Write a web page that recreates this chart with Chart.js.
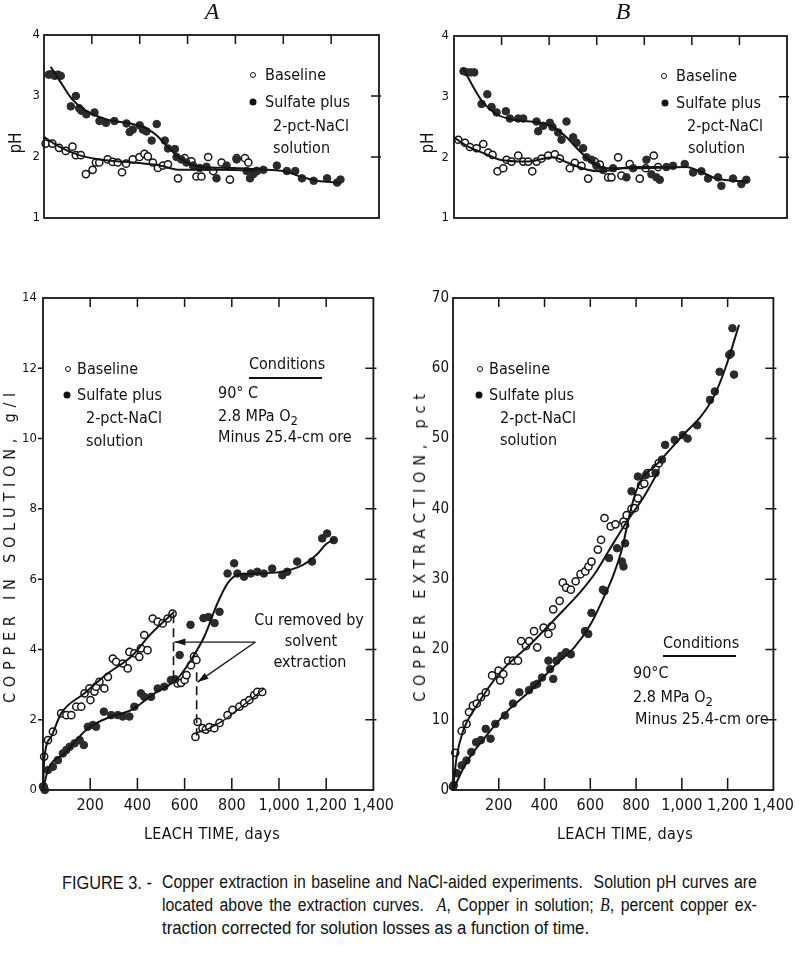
<!DOCTYPE html>
<html>
<head>
<meta charset="utf-8">
<script src="https://cdn.jsdelivr.net/npm/chart.js@4.4.1/dist/chart.umd.min.js"></script>
<style>
  html, body { margin: 0; padding: 0; background: #fff; }
  #page { position: relative; width: 800px; height: 955px; overflow: hidden; background: #fff; color: #111;
          font-family: 'DejaVu Sans Condensed', 'Liberation Sans', sans-serif; }
  canvas.panel { position: absolute; }
  .t { position: absolute; white-space: nowrap; line-height: 1; font-size: 16px; transform: translateY(-50%); }
  .c { position: absolute; white-space: nowrap; line-height: 1; font-size: 16px; transform: translate(-50%, -50%); }
  .vt { position: absolute; white-space: nowrap; line-height: 1; font-size: 16px; transform: translate(-50%, -50%) rotate(-90deg); }
  .hdr { position: absolute; font-family: 'Liberation Serif', serif; font-style: italic; font-size: 24px; line-height: 1; transform: translate(-50%, -50%); }
  .dot { position: absolute; border-radius: 50%; box-sizing: border-box; transform: translate(-50%, -50%); }
  .dot.open { width: 6px; height: 6px; border: 1.4px solid #111; background: #fff; }
  .dot.fill { width: 7px; height: 7px; background: #111; }
  .uline { position: absolute; height: 1.5px; background: #111; }
  .sub { font-size: 13px; position: relative; top: 4px; }
  .cap { position: absolute; white-space: nowrap; line-height: 1; font-size: 18px;
         font-family: 'Liberation Sans', sans-serif; transform-origin: 0 50%; transform: translateY(-50%) scaleX(0.93); }
  .just { text-align: justify; text-align-last: justify; white-space: normal; width: 676px; transform: translateY(-50%) scaleX(0.88); }
  .cap i { font-family: 'Liberation Serif', serif; }
</style>
</head>
<body>
<div id="page">
  <canvas id="phA" class="panel" style="left:0;top:20px" width="400" height="240"></canvas>
  <canvas id="phB" class="panel" style="left:400px;top:20px" width="400" height="240"></canvas>
  <canvas id="cuA" class="panel" style="left:0;top:280px" width="400" height="560"></canvas>
  <canvas id="exB" class="panel" style="left:400px;top:280px" width="400" height="560"></canvas>

  <div class="hdr" style="left:212px;top:11px">A</div>
  <div class="hdr" style="left:623px;top:11px">B</div>

  <div class="vt" style="left:15px;top:143px;font-size:17px">pH</div>
  <div class="vt" style="left:427px;top:143px;font-size:17px">pH</div>
  <div class="vt" style="left:10px;top:545px;letter-spacing:5.8px">COPPER IN SOLUTION, g/l</div>
  <div class="vt" style="left:420px;top:545px;letter-spacing:5.8px">COPPER EXTRACTION, pct</div>
  <div class="c" style="left:212px;top:834px;letter-spacing:0.4px">LEACH TIME, days</div>
  <div class="c" style="left:625px;top:834px;letter-spacing:0.4px">LEACH TIME, days</div>

  <!-- pH A legend -->
  <div class="dot open" style="left:253px;top:75px"></div>
  <div class="t" style="left:265px;top:75px">Baseline</div>
  <div class="dot fill" style="left:253px;top:102px"></div>
  <div class="t" style="left:265px;top:102px">Sulfate plus</div>
  <div class="t" style="left:273px;top:126px">2-pct-NaCl</div>
  <div class="t" style="left:273px;top:148px">solution</div>

  <!-- pH B legend -->
  <div class="dot open" style="left:664px;top:76px"></div>
  <div class="t" style="left:676px;top:76px">Baseline</div>
  <div class="dot fill" style="left:665px;top:103px"></div>
  <div class="t" style="left:676px;top:103px">Sulfate plus</div>
  <div class="t" style="left:687px;top:126px">2-pct-NaCl</div>
  <div class="t" style="left:688px;top:148px">solution</div>

  <!-- copper in solution legend + conditions -->
  <div class="dot open" style="left:68px;top:369px"></div>
  <div class="t" style="left:77px;top:369px">Baseline</div>
  <div class="dot fill" style="left:67px;top:395px"></div>
  <div class="t" style="left:77px;top:395px">Sulfate plus</div>
  <div class="t" style="left:86px;top:418px">2-pct-NaCl</div>
  <div class="t" style="left:86px;top:441px">solution</div>
  <div class="t" style="left:249px;top:364px">Conditions</div>
  <div class="uline" style="left:249px;top:377px;width:73px"></div>
  <div class="t" style="left:218px;top:393px">90° C</div>
  <div class="t" style="left:218px;top:416px">2.8 MPa O<span class="sub">2</span></div>
  <div class="t" style="left:218px;top:437px">Minus 25.4-cm ore</div>
  <div class="c" style="left:309px;top:620px">Cu removed by</div>
  <div class="c" style="left:311px;top:641px">solvent</div>
  <div class="c" style="left:310px;top:662px">extraction</div>

  <!-- extraction legend + conditions -->
  <div class="dot open" style="left:480px;top:369px"></div>
  <div class="t" style="left:489px;top:369px">Baseline</div>
  <div class="dot fill" style="left:479px;top:395px"></div>
  <div class="t" style="left:489px;top:395px">Sulfate plus</div>
  <div class="t" style="left:500px;top:418px">2-pct-NaCl</div>
  <div class="t" style="left:500px;top:440px">solution</div>
  <div class="t" style="left:663px;top:643px">Conditions</div>
  <div class="uline" style="left:663px;top:655px;width:73px"></div>
  <div class="t" style="left:633px;top:673px">90°C</div>
  <div class="t" style="left:633px;top:697px">2.8 MPa O<span class="sub">2</span></div>
  <div class="t" style="left:635px;top:719px">Minus 25.4-cm ore</div>

  <!-- caption -->
  <div class="cap" style="left:62px;top:882px;font-size:19px;transform:translateY(-50%) scaleX(0.86)">FIGURE 3. -</div>
  <div class="cap just" style="left:162px;top:882px">Copper extraction in baseline and NaCl-aided experiments.&nbsp; Solution pH curves are</div>
  <div class="cap just" style="left:162px;top:905px">located above the extraction curves.&nbsp; <i>A</i>, Copper in solution; <i>B</i>, percent copper ex-</div>
  <div class="cap" style="left:162px;top:928px">traction corrected for solution losses as a function of time.</div>
</div>

<script>
// ---- data: [days, value] ----
const leachTicks = [200, 400, 600, 800, 1000, 1200];

// pH, panel A
const phA_baseline = [[7,2.22],[35,2.22],[63,2.15],[91,2.10],[119,2.17],[133,2.03],[154,2.03],[175,1.72],[203,1.79],[217,1.91],[231,1.91],[266,1.96],[287,1.92],[308,1.91],[326,1.75],[343,1.89],[371,1.96],[399,2.00],[420,2.05],[434,2.01],[455,1.91],[476,1.82],[497,1.86],[518,1.88],[560,1.65],[588,1.98],[616,1.93],[637,1.68],[658,1.68],[686,2.00],[707,1.77],[742,1.91],[777,1.63],[805,1.98],[840,1.98],[854,1.91],[889,1.77]];
const phA_sulfate = [[20,3.35],[32,3.36],[45,3.33],[58,3.35],[70,3.33],[112,2.83],[133,3.00],[147,2.80],[156,2.76],[177,2.70],[211,2.73],[232,2.59],[259,2.56],[294,2.59],[345,2.55],[358,2.41],[371,2.45],[400,2.52],[413,2.45],[428,2.42],[450,2.27],[471,2.54],[505,2.27],[518,2.14],[547,2.13],[554,2.00],[574,1.96],[595,1.91],[623,1.86],[651,1.82],[679,1.84],[721,1.65],[763,1.86],[805,1.96],[847,1.77],[861,1.65],[875,1.72],[889,1.77],[917,1.79],[973,1.86],[1015,1.77],[1050,1.77],[1078,1.65],[1127,1.61],[1183,1.65],[1225,1.58],[1239,1.63]];
const phA_baselineFit = [[0,2.33],[63,2.17],[147,2.03],[231,1.96],[371,1.91],[483,1.86],[567,1.79],[720,1.79],[880,1.78]];
const phA_sulfateFit = [[28,3.48],[77,3.18],[119,2.94],[175,2.76],[259,2.62],[371,2.54],[427,2.47],[469,2.36],[511,2.19],[553,2.03],[595,1.91],[651,1.84],[791,1.82],[931,1.79],[1001,1.77],[1071,1.68],[1141,1.61],[1239,1.58]];

// pH, panel B
const phB_baseline = [[18,2.29],[46,2.24],[67,2.17],[95,2.15],[123,2.22],[144,2.08],[162,2.04],[183,1.77],[207,1.82],[221,1.96],[242,1.93],[270,2.03],[291,1.93],[312,1.93],[329,1.77],[347,1.93],[368,1.98],[396,2.03],[424,2.05],[445,1.98],[487,1.82],[508,1.91],[536,1.86],[564,1.65],[592,1.93],[613,1.88],[648,1.67],[662,1.67],[690,2.00],[704,1.70],[739,1.89],[781,1.65],[806,1.82],[840,2.03],[858,1.84]];
const phB_sulfate = [[40,3.42],[55,3.40],[70,3.40],[85,3.40],[116,2.88],[140,3.04],[158,2.83],[179,2.74],[218,2.76],[235,2.64],[270,2.64],[291,2.64],[347,2.59],[354,2.43],[375,2.52],[403,2.57],[414,2.50],[438,2.41],[452,2.29],[473,2.59],[501,2.33],[515,2.24],[543,2.15],[557,2.00],[578,1.96],[599,1.86],[627,1.79],[669,1.82],[725,1.67],[753,1.82],[809,1.96],[830,1.72],[851,1.67],[865,1.63],[893,1.84],[921,1.86],[970,1.89],[1005,1.75],[1040,1.77],[1068,1.65],[1110,1.67],[1124,1.53],[1173,1.65],[1208,1.56],[1229,1.63]];
const phB_baselineFit = [[0,2.33],[53,2.19],[137,2.05],[193,1.96],[305,1.93],[417,2.00],[473,1.92],[557,1.80],[613,1.77],[753,1.84],[870,1.84]];
const phB_sulfateFit = [[39,3.47],[74,3.21],[123,2.90],[179,2.71],[249,2.62],[361,2.57],[417,2.50],[473,2.33],[529,2.10],[585,1.91],[641,1.82],[753,1.82],[977,1.84],[1033,1.77],[1103,1.65],[1236,1.60]];

// copper in solution, g/l (panel A)
const cuA_baseline = [[3,0.1],[5,0.95],[21,1.42],[42,1.66],[77,2.18],[99,2.13],[120,2.13],[141,2.37],[162,2.37],[176,2.75],[197,2.89],[201,2.56],[218,2.80],[225,2.94],[239,3.08],[260,2.89],[275,3.22],[296,3.74],[310,3.65],[338,3.60],[359,3.46],[366,3.93],[387,3.89],[408,3.79],[415,4.03],[429,4.41],[443,3.98],[465,4.88],[486,4.79],[507,4.74],[528,4.88],[549,5.02]];
const cuA_baselineMid = [[570,3.03],[585,3.05],[600,3.13],[608,3.27],[627,3.55],[640,3.80],[650,3.70]];
const cuA_baselineLate = [[646,1.51],[655,1.94],[676,1.76],[690,1.72],[705,1.79],[726,1.76],[748,1.91],[782,2.13],[803,2.28],[832,2.37],[853,2.47],[874,2.56],[895,2.70],[908,2.79],[929,2.79]];
const cuA_sulfate = [[0,0.1],[3,0.05],[8,0.0],[21,0.57],[42,0.66],[63,0.85],[84,1.04],[99,1.14],[113,1.23],[134,1.33],[155,1.42],[173,1.28],[190,1.80],[211,1.85],[225,1.80],[258,2.23],[289,2.13],[317,2.13],[338,2.09],[366,2.09],[387,2.37],[415,2.75],[429,2.65],[458,2.65],[486,2.89],[514,2.94],[542,3.13],[560,3.15],[579,3.84],[625,4.70],[680,4.89],[701,4.92],[727,4.75],[748,5.07],[782,6.16],[810,6.45],[824,6.16],[852,6.07],[880,6.16],[908,6.21],[936,6.16],[971,6.30],[1014,6.11],[1035,6.21],[1077,6.50],[1140,6.50],[1183,7.16],[1204,7.30],[1232,7.11]];
const cuA_baselineFit = [[0,0],[5,0.85],[35,1.52],[77,2.18],[176,2.75],[275,3.32],[373,3.79],[458,4.45],[556,5.07]];
const cuA_baselineLateFit = [[648,1.62],[700,1.74],[760,1.96],[850,2.42],[936,2.88]];
const cuA_sulfateFit = [[0,0],[21,0.57],[91,1.04],[190,1.75],[289,2.09],[373,2.27],[472,2.75],[570,3.17],[627,3.70],[683,4.36],[739,5.31],[782,5.88],[824,6.12],[900,6.16],[1000,6.2],[1100,6.4],[1160,6.7],[1200,7.0],[1240,7.15]];
// solvent-extraction marks: [days, from g/l, to g/l] and arrows [x0,y0,x1,y1]
const cuA_removals = [[553, 5.0, 3.05], [651, 3.35, 1.55]];
const cuA_arrows = [[900, 4.21, 557, 4.21], [900, 4.21, 655, 3.07]];

// copper extraction, pct (panel B)
const exB_baseline = [[0,0.5],[10,5.3],[38,8.4],[59,9.4],[70,11.1],[87,12.0],[104,12.3],[122,13.2],[143,13.9],[171,16.3],[199,17.0],[206,15.6],[220,16.5],[241,18.4],[262,18.4],[284,18.4],[298,21.2],[319,20.5],[333,21.2],[354,22.6],[368,20.3],[396,23.1],[417,22.2],[431,23.3],[438,25.7],[466,26.9],[480,29.5],[494,28.8],[515,28.5],[536,29.7],[557,30.7],[578,31.1],[592,31.8],[605,32.5],[633,34.2],[647,35.6],[662,38.7],[689,37.5],[710,37.8],[745,38.2],[752,37.7],[759,39.1],[780,40.0],[794,40.1],[808,41.5],[822,43.4],[836,43.6],[850,45.1],[864,45.1],[885,45.8],[899,46.5]];
const exB_sulfate = [[0,0.5],[3,0.7],[17,2.4],[38,3.5],[59,4.2],[80,5.4],[101,6.8],[122,7.1],[143,8.7],[164,7.3],[185,9.4],[227,10.6],[262,12.3],[290,13.9],[332,14.2],[354,14.9],[368,15.1],[389,16.0],[417,18.4],[424,17.2],[438,15.8],[452,18.4],[473,19.1],[494,19.6],[515,19.3],[577,22.6],[591,22.2],[605,25.2],[655,28.5],[662,28.3],[682,33.0],[717,34.4],[738,32.5],[745,31.8],[752,35.1],[780,42.5],[808,44.6],[843,44.8],[885,45.1],[913,47.0],[927,49.1],[969,49.8],[1004,50.5],[1025,50.0],[1067,51.9],[1123,55.5],[1144,56.7],[1165,59.5],[1207,61.9],[1214,62.1],[1221,65.7],[1228,59.1]];
const exB_baselineFit = [[0,0],[15,4.5],[45,8.5],[100,11.8],[200,16.5],[340,20.8],[480,25.5],[560,28.3],[620,30.8],[680,34],[760,38.2],[830,41.5],[900,45.5]];
const exB_sulfateFit = [[0,0],[60,4],[140,7.5],[240,11.3],[340,14.2],[450,17.9],[530,20.3],[600,23.5],[660,27.5],[700,30.5],[740,34.5],[770,39],[800,42.5],[830,44.5],[880,46],[950,48.5],[1020,51],[1080,53],[1140,56],[1190,60],[1250,66.2]];

// ---- drawing ----
const FONT = "'DejaVu Sans Condensed', 'Liberation Sans', sans-serif";
const INK = '#141414';

const pts = arr => arr.map(([x, y]) => ({ x, y }));

const openSet = arr => ({
    data: pts(arr), showLine: false, clip: false,
    pointRadius: 3.6, pointBorderWidth: 1.5,
    pointBackgroundColor: '#fff', pointBorderColor: INK
});
const fillSet = arr => ({
    data: pts(arr), showLine: false, clip: false,
    pointRadius: 3.8, pointBorderWidth: 1,
    pointBackgroundColor: '#2b2b2b', pointBorderColor: '#2b2b2b'
});
const fitSet = (arr, width = 2) => ({
    data: pts(arr), showLine: true, clip: false, fill: false,
    pointRadius: 0, borderColor: INK, borderWidth: width,
    cubicInterpolationMode: 'monotone'
});

// box around the plot area plus the short tick marks
const frameTicks = {
    id: 'frameTicks',
    afterDatasetsDraw(chart, args, o) {
        const { ctx, chartArea: a, scales: { x, y } } = chart;
        ctx.save();
        ctx.strokeStyle = INK;
        ctx.lineWidth = 1.8;
        ctx.strokeRect(a.left, a.top, a.right - a.left, a.bottom - a.top);
        ctx.lineWidth = 1.5;
        ctx.beginPath();
        leachTicks.forEach(v => {
            const px = x.getPixelForValue(v);
            if (o.top) { ctx.moveTo(px, a.top); ctx.lineTo(px, a.top + o.top); }
            if (o.bottom) { ctx.moveTo(px, a.bottom); ctx.lineTo(px, a.bottom - o.bottom); }
        });
        y.ticks.forEach(t => {
            const py = y.getPixelForValue(t.value);
            if (py <= a.top + 1 || py >= a.bottom - 1) return;
            if (o.left) { ctx.moveTo(a.left - o.left, py); ctx.lineTo(a.left, py); }
            if (o.right) { ctx.moveTo(a.right - o.right[0], py); ctx.lineTo(a.right + o.right[1], py); }
        });
        ctx.stroke();
        ctx.restore();
    }
};

// dashed drops and arrows for the solvent-extraction note
const cuNotes = {
    id: 'cuNotes',
    afterDatasetsDraw(chart, args, o) {
        const { ctx, scales: { x, y } } = chart;
        ctx.save();
        ctx.strokeStyle = INK;
        ctx.fillStyle = INK;
        ctx.lineWidth = 1.6;
        ctx.setLineDash([9, 5]);
        o.drops.forEach(([d, y0, y1]) => {
            ctx.beginPath();
            ctx.moveTo(x.getPixelForValue(d), y.getPixelForValue(y0));
            ctx.lineTo(x.getPixelForValue(d), y.getPixelForValue(y1));
            ctx.stroke();
        });
        ctx.setLineDash([]);
        ctx.lineWidth = 1.3;
        o.arrows.forEach(([x0, y0, x1, y1]) => {
            const ax = x.getPixelForValue(x0), ay = y.getPixelForValue(y0);
            const bx = x.getPixelForValue(x1), by = y.getPixelForValue(y1);
            ctx.beginPath();
            ctx.moveTo(ax, ay);
            ctx.lineTo(bx, by);
            ctx.stroke();
            const ang = Math.atan2(by - ay, bx - ax);
            ctx.beginPath();
            ctx.moveTo(bx, by);
            ctx.lineTo(bx - 11 * Math.cos(ang) + 3.5 * Math.sin(ang), by - 11 * Math.sin(ang) - 3.5 * Math.cos(ang));
            ctx.lineTo(bx - 11 * Math.cos(ang) - 3.5 * Math.sin(ang), by - 11 * Math.sin(ang) + 3.5 * Math.cos(ang));
            ctx.closePath();
            ctx.fill();
        });
        ctx.restore();
    }
};

function buildPanel(id, cfg) {
    return new Chart(document.getElementById(id), {
        type: 'scatter',
        data: { datasets: cfg.datasets },
        options: {
            responsive: false,
            animation: false,
            events: [],
            layout: { padding: cfg.padding },
            plugins: {
                legend: { display: false },
                tooltip: { enabled: false },
                frameTicks: cfg.frame,
                cuNotes: cfg.notes || false
            },
            scales: {
                x: {
                    type: 'linear', min: 0, max: 1400,
                    display: cfg.showX,
                    grid: { display: false, drawTicks: false, tickLength: 0 },
                    border: { display: false },
                    ticks: {
                        stepSize: 200, autoSkip: false, maxRotation: 0, padding: 6,
                        color: INK, font: { family: FONT, size: 16 },
                        callback: v => v === 0 ? '' : (v >= 1000 ? v.toLocaleString('en-US') : String(v))
                    },
                    afterFit: s => { s.height = 30; }
                },
                y: {
                    type: 'linear', min: cfg.yMin, max: cfg.yMax,
                    grid: { display: false, drawTicks: false, tickLength: 0 },
                    border: { display: false },
                    ticks: {
                        stepSize: cfg.yStep, padding: cfg.yPad,
                        color: INK, font: { family: FONT, size: cfg.yFont }
                    },
                    afterFit: s => { s.width = cfg.yWidth; }
                }
            }
        },
        plugins: [frameTicks, cuNotes]
    });
}

buildPanel('phA', {
    datasets: [fitSet(phA_sulfateFit), fitSet(phA_baselineFit), fillSet(phA_sulfate), openSet(phA_baseline)],
    padding: { left: 0, top: 15, right: 21, bottom: 12 },
    showX: false, yMin: 1, yMax: 4, yStep: 1, yPad: 4, yFont: 13, yWidth: 44,
    frame: { top: 9, bottom: 0, left: 0, right: [8, 2] }
});

buildPanel('phB', {
    datasets: [fitSet(phB_sulfateFit), fitSet(phB_baselineFit), fillSet(phB_sulfate), openSet(phB_baseline)],
    padding: { left: 0, top: 16, right: 13, bottom: 12 },
    showX: false, yMin: 1, yMax: 4, yStep: 1, yPad: 5, yFont: 13, yWidth: 54,
    frame: { top: 9, bottom: 0, left: 0, right: [8, 2] }
});

buildPanel('cuA', {
    datasets: [
        fitSet(cuA_sulfateFit), fitSet(cuA_baselineFit), fitSet(cuA_baselineLateFit, 1.4),
        fillSet(cuA_sulfate), openSet(cuA_baseline), openSet(cuA_baselineMid), openSet(cuA_baselineLate)
    ],
    padding: { left: 0, top: 18, right: 22, bottom: 20 },
    showX: true, yMin: 0, yMax: 14, yStep: 2, yPad: 6, yFont: 13, yWidth: 43,
    frame: { top: 9, bottom: 12, left: 5, right: [8, 3] },
    notes: { drops: cuA_removals, arrows: cuA_arrows }
});

buildPanel('exB', {
    datasets: [fitSet(exB_sulfateFit), fitSet(exB_baselineFit), fillSet(exB_sulfate), openSet(exB_baseline)],
    padding: { left: 0, top: 18, right: 17, bottom: 20 },
    showX: true, yMin: 0, yMax: 70, yStep: 10, yPad: 4, yFont: 15, yWidth: 53,
    frame: { top: 9, bottom: 12, left: 0, right: [8, 3] }
});
</script>
</body>
</html>
